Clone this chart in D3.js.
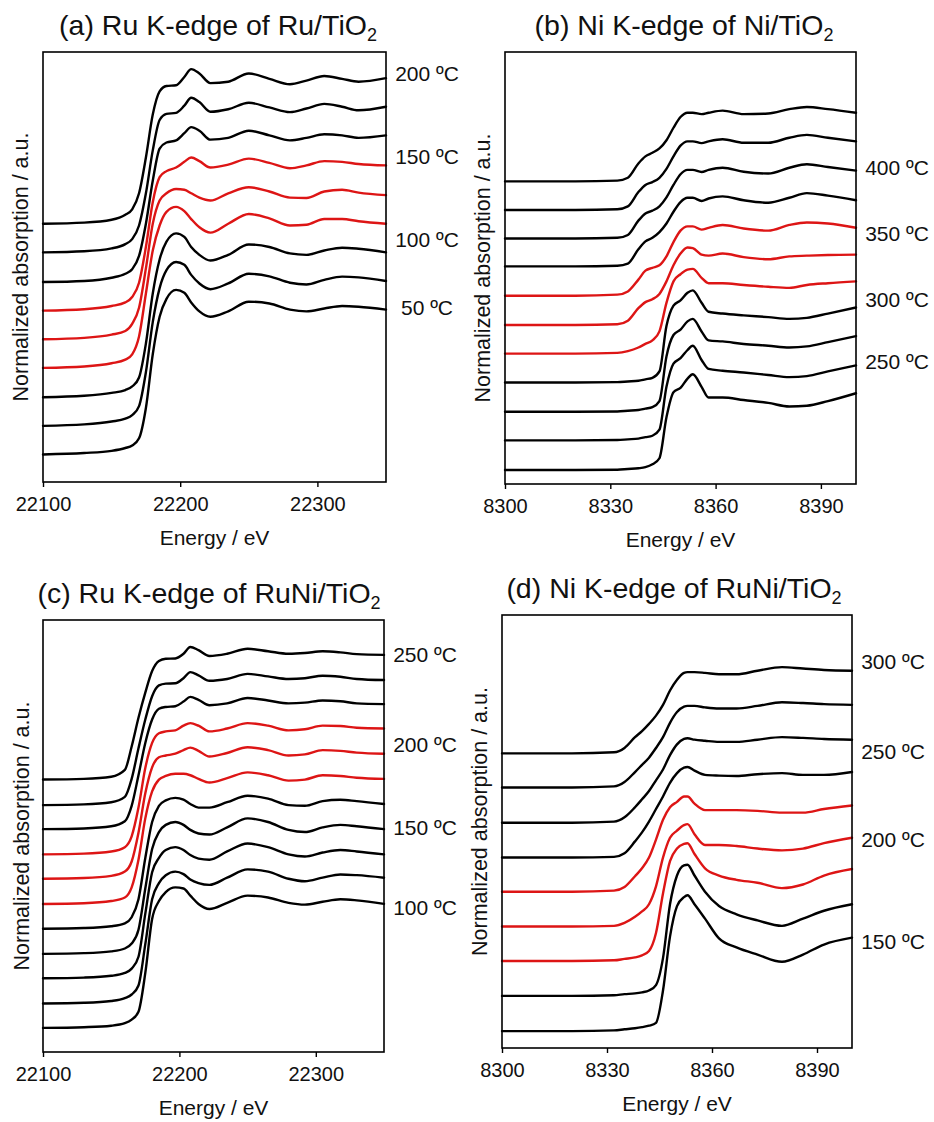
<!DOCTYPE html>
<html>
<head>
<meta charset="utf-8">
<script src="https://cdn.jsdelivr.net/npm/d3@7"></script>
<style>
  html, body { margin: 0; padding: 0; background: #fff; }
  svg { display: block; }
  text { font-family: "Liberation Sans", Arial, sans-serif; fill: #111; }
</style>
</head>
<body>
<svg id="chart" width="934" height="1122"></svg>
<script>
// ---------------- DATA ----------------
const energyRu = [22100, 22130, 22150, 22160, 22165, 22170, 22175, 22180, 22185, 22190, 22197, 22203, 22208, 22214, 22222, 22235, 22250, 22265, 22280, 22292, 22305, 22318, 22330, 22350];
const energyNiB = [8300, 8320, 8332, 8335, 8338, 8340, 8342, 8344, 8346, 8348, 8350, 8352, 8353.5, 8356, 8358, 8362, 8368, 8375, 8381, 8386, 8392, 8400];
const energyNiD = [8300, 8320, 8332, 8335, 8338, 8340, 8342, 8344, 8346, 8348, 8350, 8352, 8353, 8355, 8358, 8362, 8367, 8373, 8380, 8386, 8392, 8400];

const ticksRu = [22100, 22200, 22300];
const ticksNi = [8300, 8330, 8360, 8390];

// (a) Ru K-edge of Ru/TiO2 — spectra top to bottom (offset normalized absorption, a.u.)
const seriesA = [
  [7.22,7.25,7.33,7.47,7.62,8.07,9.07,10.27,10.92,11.07,11.09,11.32,11.54,11.42,11.15,11.19,11.42,11.27,11.12,11.22,11.35,11.27,11.19,11.29],
  [6.42,6.45,6.53,6.65,6.79,7.17,8.07,9.27,10.12,10.29,10.32,10.52,10.74,10.62,10.35,10.42,10.60,10.47,10.34,10.44,10.57,10.49,10.39,10.49],
  [5.59,5.62,5.71,5.82,5.95,6.32,7.22,8.42,9.32,9.49,9.55,9.75,9.92,9.82,9.57,9.62,9.82,9.69,9.55,9.62,9.72,9.69,9.62,9.69],
  [4.79,4.83,4.92,5.02,5.17,5.57,6.57,7.82,8.52,8.69,8.79,8.95,9.07,8.97,8.79,8.87,9.04,8.92,8.77,8.85,8.97,8.95,8.89,8.85],
  [3.99,4.03,4.12,4.22,4.42,4.87,5.97,7.22,7.87,8.07,8.19,8.17,8.07,7.95,7.87,8.07,8.24,8.12,7.95,7.94,8.12,8.17,8.09,8.02],
  [3.19,3.23,3.32,3.42,3.57,4.07,5.27,6.47,7.17,7.55,7.69,7.57,7.35,7.12,6.97,7.22,7.49,7.37,7.17,7.19,7.35,7.35,7.29,7.22],
  [2.37,2.41,2.49,2.57,2.67,2.92,3.87,5.27,6.22,6.72,6.95,6.85,6.57,6.35,6.19,6.35,6.64,6.57,6.39,6.35,6.47,6.55,6.52,6.42],
  [1.57,1.61,1.69,1.77,1.87,2.12,3.07,4.47,5.42,5.92,6.15,6.07,5.79,5.55,5.39,5.55,5.82,5.75,5.57,5.52,5.65,5.74,5.72,5.62],
  [0.77,0.81,0.87,0.95,1.02,1.22,2.07,3.57,4.62,5.12,5.37,5.29,5.02,4.77,4.62,4.77,5.04,4.99,4.82,4.77,4.85,4.92,4.90,4.82]
];
const colorsA = ["k","k","k","r","r","r","k","k","k"];
const labelsA = ["200 ºC", "150 ºC", "100 ºC", "50 ºC"];
const labelValA = [11.42, 9.10, 6.79, 4.87];

// (b) Ni K-edge of Ni/TiO2
const seriesB = [
  [8.47,8.47,8.49,8.57,8.97,9.17,9.27,9.39,9.62,9.97,10.27,10.39,10.39,10.35,10.39,10.45,10.35,10.37,10.49,10.55,10.49,10.39],
  [7.67,7.67,7.69,7.77,8.17,8.37,8.45,8.57,8.82,9.17,9.47,9.59,9.59,9.54,9.59,9.65,9.55,9.55,9.69,9.77,9.69,9.59],
  [6.87,6.87,6.89,6.97,7.37,7.57,7.65,7.77,8.02,8.37,8.67,8.79,8.79,8.73,8.79,8.85,8.74,8.69,8.85,8.95,8.87,8.77],
  [6.09,6.09,6.11,6.17,6.57,6.79,6.89,7.05,7.29,7.62,7.89,8.01,8.01,7.92,7.99,8.05,7.94,7.87,8.01,8.14,8.07,7.94],
  [5.27,5.27,5.30,5.39,5.72,5.97,6.05,6.12,6.37,6.77,7.09,7.21,7.21,7.12,7.17,7.25,7.15,7.09,7.25,7.32,7.29,7.17],
  [4.45,4.45,4.47,4.57,4.92,5.09,5.17,5.32,5.67,6.12,6.45,6.62,6.60,6.42,6.39,6.45,6.35,6.29,6.37,6.39,6.41,6.42],
  [3.65,3.65,3.67,3.72,3.82,3.92,4.02,4.27,5.07,5.67,5.87,6.00,6.02,5.77,5.62,5.62,5.57,5.52,5.49,5.57,5.62,5.67],
  [2.84,2.84,2.85,2.87,2.89,2.93,2.97,3.15,4.42,4.99,5.14,5.35,5.42,5.07,4.82,4.77,4.72,4.67,4.62,4.65,4.77,4.94],
  [2.02,2.02,2.03,2.05,2.07,2.11,2.15,2.32,3.57,4.17,4.32,4.55,4.62,4.27,4.02,3.99,3.92,3.87,3.82,3.85,3.97,4.14],
  [1.22,1.22,1.23,1.25,1.27,1.31,1.35,1.52,2.72,3.37,3.52,3.75,3.87,3.47,3.22,3.17,3.12,3.05,2.99,3.02,3.15,3.32],
  [0.39,0.39,0.40,0.42,0.44,0.47,0.55,0.72,1.87,2.57,2.69,2.95,3.07,2.72,2.42,2.42,2.35,2.27,2.17,2.19,2.32,2.54]
];
const colorsB = ["k","k","k","k","r","r","r","k","k","k","k"];
const labelsB = ["400 ºC", "350 ºC", "300 ºC", "250 ºC"];
const labelValB = [8.87, 7.02, 5.17, 3.42];

// (c) Ru K-edge of RuNi/TiO2
const seriesC = [
  [7.58,7.60,7.66,7.85,8.50,9.30,10.00,10.60,10.88,10.94,10.95,11.08,11.27,11.18,11.02,11.08,11.22,11.15,11.08,11.10,11.15,11.12,11.07,11.05],
  [6.87,6.89,6.95,7.10,7.60,8.45,9.25,9.90,10.20,10.25,10.26,10.40,10.57,10.48,10.33,10.38,10.52,10.45,10.38,10.40,10.47,10.44,10.38,10.35],
  [6.20,6.22,6.28,6.42,6.85,7.70,8.60,9.25,9.55,9.60,9.62,9.75,9.88,9.80,9.65,9.70,9.85,9.78,9.70,9.72,9.78,9.76,9.70,9.68],
  [5.50,5.52,5.58,5.70,6.00,6.80,7.90,8.60,8.87,8.92,8.95,9.08,9.15,9.08,8.92,9.00,9.15,9.08,8.95,8.98,9.08,9.07,9.02,9.00],
  [4.82,4.84,4.90,5.02,5.30,6.10,7.20,7.92,8.20,8.25,8.30,8.40,8.47,8.38,8.22,8.32,8.48,8.40,8.25,8.28,8.40,8.38,8.33,8.30],
  [4.12,4.14,4.20,4.30,4.58,5.35,6.50,7.25,7.58,7.68,7.74,7.74,7.70,7.60,7.50,7.62,7.78,7.70,7.55,7.58,7.70,7.68,7.63,7.60],
  [3.43,3.45,3.50,3.58,3.75,4.25,5.40,6.40,6.85,7.00,7.07,7.02,6.90,6.80,6.80,6.95,7.13,7.05,6.87,6.85,6.98,7.02,6.98,6.90],
  [2.73,2.75,2.80,2.88,3.02,3.40,4.55,5.65,6.12,6.32,6.40,6.32,6.18,6.08,6.05,6.25,6.50,6.40,6.18,6.12,6.25,6.32,6.28,6.20],
  [2.05,2.07,2.12,2.20,2.32,2.65,3.85,5.00,5.40,5.62,5.70,5.62,5.48,5.38,5.35,5.58,5.80,5.70,5.50,5.44,5.55,5.62,5.58,5.50],
  [1.35,1.37,1.42,1.50,1.60,1.85,3.00,4.25,4.70,4.92,5.02,4.95,4.80,4.70,4.65,4.85,5.08,5.02,4.82,4.75,4.85,4.94,4.92,4.85],
  [0.67,0.69,0.73,0.80,0.90,1.12,2.20,3.70,4.20,4.45,4.58,4.55,4.35,4.12,3.98,4.15,4.35,4.30,4.15,4.10,4.18,4.25,4.22,4.12]
];
const colorsC = ["k","k","k","r","r","r","k","k","k","k","k"];
const labelsC = ["250 ºC", "200 ºC", "150 ºC", "100 ºC"];
const labelValC = [11.05, 8.55, 6.25, 4.02];

// (d) Ni K-edge of RuNi/TiO2
const seriesD = [
  [8.20,8.20,8.23,8.35,8.65,8.82,9.02,9.25,9.55,9.95,10.25,10.44,10.46,10.46,10.44,10.40,10.40,10.50,10.60,10.56,10.52,10.50],
  [7.25,7.25,7.28,7.40,7.68,7.88,8.08,8.35,8.65,9.05,9.35,9.50,9.52,9.52,9.48,9.45,9.45,9.52,9.62,9.60,9.57,9.55],
  [6.27,6.27,6.30,6.42,6.70,6.92,7.15,7.45,7.75,8.15,8.45,8.60,8.62,8.58,8.55,8.52,8.52,8.58,8.65,8.63,8.60,8.58],
  [5.30,5.30,5.32,5.42,5.75,6.00,6.30,6.65,7.00,7.38,7.65,7.80,7.82,7.72,7.60,7.58,7.57,7.62,7.65,7.60,7.60,7.68],
  [4.35,4.35,4.38,4.48,4.78,5.00,5.30,5.80,6.35,6.70,6.85,7.00,7.00,6.80,6.62,6.62,6.62,6.60,6.55,6.55,6.65,6.75],
  [3.38,3.38,3.40,3.48,3.65,3.80,4.00,4.50,5.30,5.85,6.05,6.20,6.23,5.95,5.65,5.65,5.62,5.55,5.50,5.55,5.70,5.85],
  [2.42,2.42,2.44,2.48,2.52,2.58,2.70,3.20,4.30,5.20,5.55,5.68,5.70,5.40,5.00,4.80,4.68,4.60,4.45,4.55,4.80,4.98],
  [1.45,1.45,1.47,1.50,1.52,1.55,1.60,1.75,2.50,4.00,4.80,5.08,5.10,4.80,4.35,3.95,3.72,3.55,3.40,3.60,3.82,4.00],
  [0.47,0.47,0.49,0.52,0.55,0.58,0.62,0.70,1.60,3.10,3.95,4.20,4.25,4.00,3.60,3.05,2.80,2.60,2.40,2.60,2.88,3.07]
];
const colorsD = ["k","k","k","k","r","r","r","k","k"];
const labelsD = ["300 ºC", "250 ºC", "200 ºC", "150 ºC"];
const labelValD = [10.75, 8.25, 5.80, 2.95];

// ---------------- LAYOUT ----------------
const COLORS = { k: "#000000", r: "#dd1515" };
const panels = [
  { title: "(a) Ru K-edge of Ru/TiO", titleX: 218, energy: energyRu, series: seriesA, colors: colorsA, labels: labelsA, labelVals: labelValA,
    xDomain: [22100, 22350], yDomain: [0, 12.02], ticks: ticksRu, frame: { l: 43, r: 386, t: 52, b: 482 }, yLabX: 21 },
  { title: "(b) Ni K-edge of Ni/TiO", titleX: 684, energy: energyNiB, series: seriesB, colors: colorsB, labels: labelsB, labelVals: labelValB,
    xDomain: [8300, 8400], yDomain: [0, 12.09], ticks: ticksNi, frame: { l: 505, r: 856, t: 52, b: 484 }, yLabX: 483 },
  { title: "(c) Ru K-edge of RuNi/TiO", titleX: 209, energy: energyRu, series: seriesC, colors: colorsC, labels: labelsC, labelVals: labelValC,
    xDomain: [22100, 22350], yDomain: [0, 12.02], ticks: ticksRu, frame: { l: 43, r: 384, t: 620, b: 1052 }, yLabX: 22 },
  { title: "(d) Ni K-edge of RuNi/TiO", titleX: 674, energy: energyNiD, series: seriesD, colors: colorsD, labels: labelsD, labelVals: labelValD,
    xDomain: [8300, 8400], yDomain: [0, 12.05], ticks: ticksNi, frame: { l: 502, r: 852, t: 615, b: 1048 }, yLabX: 480, yLabShift: -10 }
];

const svg = d3.select("#chart");
svg.append("rect").attr("width", 934).attr("height", 1122).attr("fill", "#fff");

panels.forEach(p => {
  const f = p.frame;
  const x = d3.scaleLinear().domain(p.xDomain).range([f.l, f.r]);
  const y = d3.scaleLinear().domain(p.yDomain).range([f.b, f.t]);
  const g = svg.append("g");

  // curves
  const line = d3.line()
    .x(d => x(d[0]))
    .y(d => y(d[1]))
    .curve(d3.curveMonotoneX);
  p.series.forEach((vals, i) => {
    const pts = p.energy.map((e, j) => [e, vals[j]]);
    g.append("path")
      .attr("d", line(pts))
      .attr("fill", "none")
      .attr("stroke", COLORS[p.colors[i]])
      .attr("stroke-width", 2.4)
      .attr("stroke-linejoin", "round")
      .attr("stroke-linecap", "round");
  });

  // frame
  g.append("rect")
    .attr("x", f.l).attr("y", f.t)
    .attr("width", f.r - f.l).attr("height", f.b - f.t)
    .attr("fill", "none").attr("stroke", "#000").attr("stroke-width", 1.6);

  // x axis
  const ax = g.append("g")
    .attr("transform", `translate(0,${f.b})`)
    .call(d3.axisBottom(x).tickValues(p.ticks).tickFormat(d3.format("d")).tickSize(5).tickSizeOuter(0).tickPadding(10));
  ax.select(".domain").remove();
  ax.selectAll(".tick line").attr("stroke", "#000").attr("stroke-width", 1.4);
  ax.selectAll(".tick text")
    .attr("font-size", 20)
    .attr("font-family", '"Liberation Sans", Arial, sans-serif')
    .attr("fill", "#111");

  // x title
  g.append("text")
    .attr("x", (f.l + f.r) / 2)
    .attr("y", f.b + 55)
    .attr("text-anchor", "middle")
    .attr("dominant-baseline", "central")
    .attr("font-size", 21)
    .text("Energy / eV");

  // y title
  const yc = (f.t + f.b) / 2 + (p.yLabShift || 0);
  g.append("text")
    .attr("transform", `translate(${p.yLabX},${yc}) rotate(-90)`)
    .attr("text-anchor", "middle")
    .attr("dominant-baseline", "central")
    .attr("font-size", 21.5)
    .text("Normalized absorption / a.u.");

  // panel title
  const t = g.append("text")
    .attr("x", p.titleX)
    .attr("y", f.t - 17)
    .attr("text-anchor", "middle")
    .attr("font-size", 28.5);
  t.append("tspan").text(p.title);
  t.append("tspan").attr("font-size", 18).attr("dy", 6).text("2");

  // temperature labels
  p.labels.forEach((lab, i) => {
    g.append("text")
      .attr("x", f.r + 41)
      .attr("y", y(p.labelVals[i]))
      .attr("text-anchor", "middle")
      .attr("dominant-baseline", "central")
      .attr("font-size", 21)
      .text(lab);
  });
});
</script>
</body>
</html>
